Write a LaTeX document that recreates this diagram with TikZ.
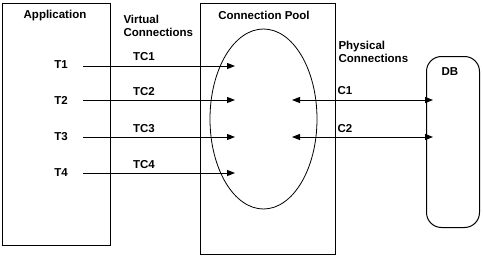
\documentclass[tikz,border=0pt]{standalone}
\usepackage{fontspec}
\setmainfont{Liberation Sans}
\usetikzlibrary{arrows.meta,shapes.geometric}

\begin{document}
\begin{tikzpicture}[x=1pt,y=-1pt,line width=1pt,
  font=\fontsize{11.5}{13.5}\selectfont\bfseries,
  box/.style={draw,inner sep=0pt,anchor=north west},
  conn/.style={-{Triangle[length=8pt,width=6pt]}},
  txt/.style={inner sep=0pt}]
\useasboundingbox (0,0) rectangle (483,257);
% boxes
\node[box,minimum width=108pt,minimum height=242pt] (app) at (2,3) {};
\node[box,minimum width=135pt,minimum height=251pt] (poolbox) at (200,3) {};
\node[draw,ellipse,line width=0.8pt,minimum width=107pt,minimum height=180pt,inner sep=0pt] (pool) at (263.5,119) {};
\node[box,rounded corners=15pt,minimum width=53pt,minimum height=171pt] (db) at (426,56) {};
% titles
\node[txt] (apptitle) at (55,16) {Application};
\node[txt,anchor=west,align=left] (virt) at (123,26) {Virtual\\Connections};
\node[txt] (pooltitle) at (264,15) {Connection Pool};
\node[txt,anchor=west,align=left] (phys) at (338,52) {Physical\\Connections};
\node[txt] (dbtitle) at (450,72) {DB};
% threads
\node[txt] (T1) at (61,65) {T1};
\node[txt] (T2) at (61,100) {T2};
\node[txt] (T3) at (61,137) {T3};
\node[txt] (T4) at (61,173) {T4};
\coordinate (s1) at (83,66);  \coordinate (e1) at (235,66);
\coordinate (s2) at (83,100); \coordinate (e2) at (235,100);
\coordinate (s3) at (83,137); \coordinate (e3) at (235,137);
\coordinate (s4) at (83,173); \coordinate (e4) at (235,173);
\draw[conn] (s1) -- (e1);
\draw[conn] (s2) -- (e2);
\draw[conn] (s3) -- (e3);
\draw[conn] (s4) -- (e4);
\node[txt] (TC1) at (144,57) {TC1};
\node[txt] (TC2) at (144,92) {TC2};
\node[txt] (TC3) at (144,129) {TC3};
\node[txt] (TC4) at (144,165) {TC4};
% physical connections
\coordinate (p1) at (292,100); \coordinate (d1) at (433,100);
\coordinate (p2) at (292,137); \coordinate (d2) at (433,137);
\draw[conn,{Triangle[length=8pt,width=6pt]}-{Triangle[length=8pt,width=6pt]}] (p1) -- (d1);
\draw[conn,{Triangle[length=8pt,width=6pt]}-{Triangle[length=8pt,width=6pt]}] (p2) -- (d2);
\node[txt,anchor=west] (C1) at (337,91) {C1};
\node[txt,anchor=west] (C2) at (337,129) {C2};
\end{tikzpicture}
\end{document}
